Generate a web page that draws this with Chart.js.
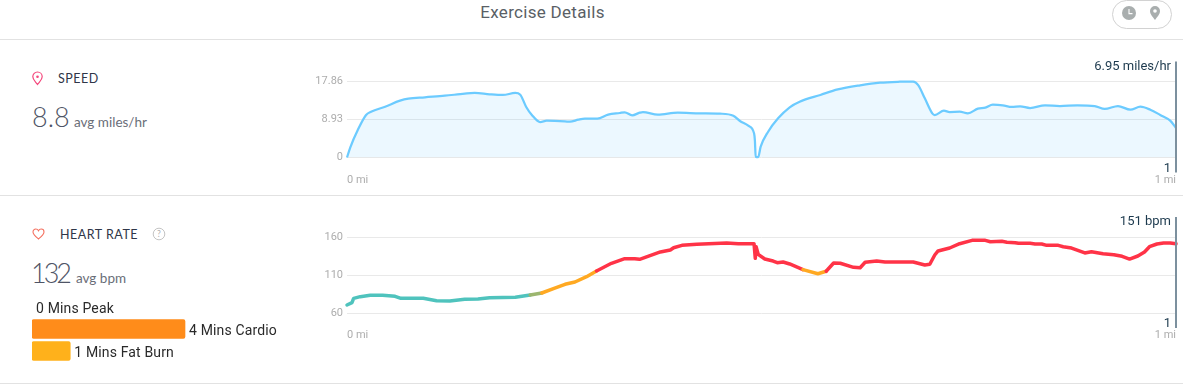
<!DOCTYPE html>
<html>
<head>
<meta charset="utf-8">
<title>Exercise Details</title>
<script src="https://cdn.jsdelivr.net/npm/chart.js@4"></script>
<style>
html, body { margin: 0; padding: 0; background: #fff; overflow: hidden; }
body { width: 1183px; height: 388px; position: relative; font-family: Lato, sans-serif; }
.abs { position: absolute; white-space: nowrap; }
.rule { position: absolute; left: 0; width: 1183px; height: 1px; background: #e2e2e2; }
canvas { position: absolute; left: 0; }
.title { left: 0; width: 1085px; text-align: center; top: 2px; font: 17px Roboto, sans-serif; color: #5a5f66; letter-spacing: .3px; }
.name { font: 12.5px Lato, sans-serif; color: #2f3648; letter-spacing: .5px; }
.big { font: 300 27px Lato, sans-serif; color: #4f5566; }
.unit { font: 13.5px Lato, sans-serif; color: #6a6e78; }
.pill { left: 1112px; top: 0; width: 58px; height: 27px; border: 1px solid #d2d2d2; border-radius: 15px; }
</style>
</head>
<body>
<div class="abs title">Exercise Details</div>
<div class="abs pill"></div>
<svg class="abs" style="left:1120px;top:4px" width="50" height="20" viewBox="0 0 50 20">
  <circle cx="9" cy="9" r="7" fill="#a9aeae"/>
  <path d="M9 5 V9.6 H12.5" fill="none" stroke="#fff" stroke-width="1.1"/>
  <path d="M35 2 a5 5 0 0 1 5 5 c0 3.4 -3 6 -5 9 c-2 -3 -5 -5.6 -5 -9 a5 5 0 0 1 5 -5 z" fill="#a9aeae"/>
  <circle cx="35" cy="7" r="1.8" fill="#fff"/>
</svg>
<div class="rule" style="top:39px"></div>
<div class="rule" style="top:195px"></div>
<div class="rule" style="top:383px"></div>

<svg class="abs" style="left:31px;top:71px" width="13" height="15" viewBox="0 0 13 15">
  <path d="M6.5 1 a4.7 4.7 0 0 1 4.7 4.7 c0 3 -2.7 5 -4.7 7.8 c-2 -2.8 -4.7 -4.8 -4.7 -7.8 a4.7 4.7 0 0 1 4.7 -4.7 z" fill="none" stroke="#f4477c" stroke-width="1.2"/>
  <circle cx="6.5" cy="5.8" r="1.3" fill="#f4477c"/>
</svg>
<div class="abs name" style="left:58px;top:71px">SPEED</div>
<div class="abs big" style="left:32px;top:100px">8.8</div>
<div class="abs unit" style="left:74px;top:114px">avg miles/hr</div>

<svg class="abs" style="left:32px;top:228px" width="13" height="12" viewBox="0 0 13 12">
  <path d="M6.5 11 C3 8 1 6.3 1 3.9 C1 2.2 2.3 1 3.8 1 C5 1 6 1.7 6.5 2.7 C7 1.7 8 1 9.2 1 C10.7 1 12 2.2 12 3.9 C12 6.3 10 8 6.5 11 z" fill="none" stroke="#f4705f" stroke-width="1.1"/>
</svg>
<div class="abs name" style="left:60px;top:227px">HEART RATE</div>
<svg class="abs" style="left:152px;top:227px" width="14" height="14" viewBox="0 0 14 14">
  <circle cx="7" cy="7" r="5.8" fill="none" stroke="#c4c4c4" stroke-width="1"/>
  <text x="7" y="10" text-anchor="middle" font-family="Lato" font-size="8.5" fill="#b0b0b0">?</text>
</svg>
<div class="abs big" style="left:31px;top:256px;letter-spacing:-3px">132</div>
<div class="abs unit" style="left:76px;top:270px">avg bpm</div>

<canvas id="speedChart" width="1183" height="145" style="top:50px"></canvas>
<canvas id="heartChart" width="1183" height="145" style="top:205px"></canvas>
<canvas id="zoneChart" width="306" height="66" style="left:32px;top:296px"></canvas>

<script>
// speed panel
const speedMiles = [0, .004, .013, .023, .029, .046, .064, .074, .094, .118, .142, .154, .172, .188, .203, .209, .216, .223, .233, .241, .263, .269, .279, .287, .302, .315, .329, .335, .344, .353, .357, .375, .399, .426, .450, .466, .474, .484, .491, .492, .493, .496, .499, .508, .520, .534, .546, .571, .592, .619, .643, .667, .683, .689, .697, .706, .709, .720, .727, .739, .749, .761, .770, .779, .791, .802, .812, .824, .842, .860, .881, .902, .914, .930, .945, .957, .969, .981, .993, 1];
const speedValues = [0, 2.4, 6.46, 10, 10.76, 11.94, 13.35, 13.82, 14.15, 14.52, 15, 15.16, 14.85, 14.69, 15.16, 14.76, 11.94, 10, 8.34, 8.65, 8.5, 8.41, 8.88, 9.12, 9.12, 10.06, 10.46, 10.62, 9.92, 10.53, 10.69, 10.06, 10.53, 10.38, 10.3, 9.82, 8.58, 7.47, 5.68, 4.1, 0.2, 0.1, 2.54, 6.06, 9.2, 11.8, 13.1, 14.7, 16, 16.97, 17.58, 17.81, 17.86, 17, 13.9, 10.38, 9.98, 11, 10.69, 10.76, 10.38, 11.47, 11.7, 12.4, 12.26, 11.87, 12.03, 11.63, 12.26, 12.1, 12.26, 12.1, 11.4, 12.1, 11.23, 11.94, 11.23, 10, 8.65, 6.95];
const speedTicks = [0, 8.93, 17.86];

// heart rate panel
const heartMiles = [0, .006, .008, .016, .028, .043, .058, .065, .092, .108, .124, .142, .158, .172, .203, .221, .235, .249, .263, .275, .289, .301, .319, .335, .347, .353, .378, .390, .394, .404, .422, .458, .472, .491, .4925, .4935, .496, .504, .514, .519, .526, .534, .550, .568, .578, .587, .595, .611, .619, .625, .639, .649, .683, .697, .703, .709, .713, .727, .739, .754, .770, .776, .790, .796, .806, .810, .824, .830, .838, .844, .858, .864, .874, .890, .898, .912, .925, .935, .944, .954, .962, .968, .977, .985, .993, 1];
const heartValues = [70.5, 73.6, 79.3, 81.5, 83.3, 83.3, 82, 79.3, 79.3, 76.2, 75.8, 78, 78.4, 80.2, 80.6, 83.7, 86.3, 92, 97.8, 100.8, 107.8, 115.3, 125.4, 131.5, 131.5, 130.6, 140.3, 142.9, 145.9, 149, 150.4, 152.1, 151.2, 151.2, 132, 147.2, 137.2, 131, 128.4, 126.2, 127.1, 124.5, 117, 111.7, 114.9, 125.8, 125.4, 120.1, 119.6, 126.7, 128.4, 127.1, 127.1, 123.2, 124.1, 136.3, 141.6, 145.5, 151.2, 155.6, 155.6, 153.8, 154.3, 153, 152.5, 151.7, 151.7, 150.8, 150.8, 149, 149, 147.2, 145.5, 139, 140.7, 138, 136.7, 134.6, 131, 135, 140.3, 147.2, 150.8, 152.1, 152.1, 151];
const heartTicks = [60, 110, 160];
const zoneLimits = [84, 85.5, 115];
const zoneColors = ['#4fc3bd', '#9cb66f', '#ffa922', '#ff3347'];

// minutes per zone
const zoneNames = ['Peak', 'Cardio', 'Fat Burn'];
const zoneMinutes = [0, 4, 1];
const zoneBarColors = ['rgba(0, 0, 0, 0)', '#ff8c1a', '#ffb11b'];

const distanceTicks = [0, 1];

function toPoints(xs, ys) {
    return xs.map((x, i) => ({ x: x, y: ys[i] }));
}

// vertical cursor at the end of the ride, with its readout
function cursorPlugin(readout) {
    return {
        id: 'cursor',
        afterDraw(chart) {
            const { ctx, scales } = chart;
            const x = scales.x.getPixelForValue(1);
            const bottom = scales.y.bottom + 15;
            const top = scales.y.top - 20;
            ctx.save();
            ctx.fillStyle = '#7c909e';
            ctx.fillRect(x - 1, top, 2, bottom - top);
            ctx.fillStyle = '#1d3a4e';
            ctx.font = '13px Roboto, sans-serif';
            ctx.textAlign = 'right';
            ctx.textBaseline = 'middle';
            ctx.fillText(readout, x - 5, top + 5);
            ctx.fillText('1', x - 5, bottom - 4);
            ctx.restore();
        }
    };
}

function lineOptions(yMin, yMax, yTicks, topPad, plotBottomGap) {
    return {
        responsive: false,
        animation: false,
        events: [],
        layout: { padding: { top: topPad, right: 7, left: 0, bottom: 0 } },
        plugins: { legend: { display: false }, tooltip: { enabled: false } },
        scales: {
            x: {
                type: 'linear',
                min: 0,
                max: 1,
                afterBuildTicks: (axis) => { axis.ticks = distanceTicks.map(v => ({ value: v })); },
                afterFit: (axis) => {
                    axis.height = plotBottomGap;
                    axis.paddingLeft = 0;
                    axis.paddingRight = 0;
                },
                grid: { display: false },
                border: { display: false },
                ticks: {
                    align: 'inner',
                    maxRotation: 0,
                    padding: 8,
                    color: '#adadad',
                    font: { family: 'Roboto, sans-serif', size: 11 },
                    callback: (v) => v + ' mi'
                }
            },
            y: {
                min: yMin,
                max: yMax,
                afterBuildTicks: (axis) => { axis.ticks = yTicks.map(v => ({ value: v })); },
                afterFit: (axis) => { axis.width = 347; },
                grid: { color: '#e9e9e9', drawTicks: false, lineWidth: 1 },
                border: { display: false },
                ticks: {
                    padding: 4,
                    color: '#adadad',
                    font: { family: 'Roboto, sans-serif', size: 11 },
                    callback: (v) => String(v)
                }
            }
        }
    };
}

new Chart(document.getElementById('speedChart'), {
    type: 'line',
    data: {
        datasets: [{
            data: toPoints(speedMiles, speedValues),
            borderColor: '#6ccbff',
            backgroundColor: 'rgba(108, 203, 255, 0.13)',
            borderWidth: 2.25,
            borderJoinStyle: 'round',
            fill: 'origin',
            pointRadius: 0,
            cubicInterpolationMode: 'monotone',
            clip: false
        }]
    },
    options: lineOptions(0, 17.86, speedTicks, 31.5, 37.5),
    plugins: [cursorPlugin('6.95 miles/hr')]
});

new Chart(document.getElementById('heartChart'), {
    type: 'line',
    data: {
        datasets: [{
            data: toPoints(heartMiles, heartValues),
            borderColor: zoneColors[3],
            borderWidth: 3.5,
            borderJoinStyle: 'round',
            borderCapStyle: 'round',
            fill: false,
            pointRadius: 0,
            tension: 0,
            clip: false,
            segment: {
                borderColor: (c) => {
                    const hr = (c.p0.parsed.y + c.p1.parsed.y) / 2;
                    const zone = zoneLimits.findIndex(limit => hr < limit);
                    return zoneColors[zone === -1 ? 3 : zone];
                }
            }
        }]
    },
    options: lineOptions(60, 160, heartTicks, 32, 37),
    plugins: [cursorPlugin('151 bpm')]
});

new Chart(document.getElementById('zoneChart'), {
    type: 'bar',
    data: {
        labels: zoneNames,
        datasets: [{
            data: zoneMinutes,
            backgroundColor: zoneBarColors,
            barThickness: 19,
            borderRadius: 2,
            borderSkipped: false
        }]
    },
    options: {
        indexAxis: 'y',
        responsive: false,
        animation: false,
        events: [],
        plugins: { legend: { display: false }, tooltip: { enabled: false } },
        scales: {
            x: { display: false, min: 0, max: 8 },
            y: { display: false }
        }
    },
    plugins: [{
        id: 'zoneLabels',
        afterDatasetsDraw(chart) {
            const { ctx } = chart;
            ctx.save();
            ctx.fillStyle = '#2a2a2a';
            ctx.font = '14px Roboto, sans-serif';
            ctx.letterSpacing = '0.15px';
            ctx.textBaseline = 'middle';
            chart.getDatasetMeta(0).data.forEach((bar, i) => {
                ctx.fillText(zoneMinutes[i] + ' Mins ' + zoneNames[i], bar.x + 4, bar.y + 2);
            });
            ctx.restore();
        }
    }]
});
</script>
</body>
</html>
